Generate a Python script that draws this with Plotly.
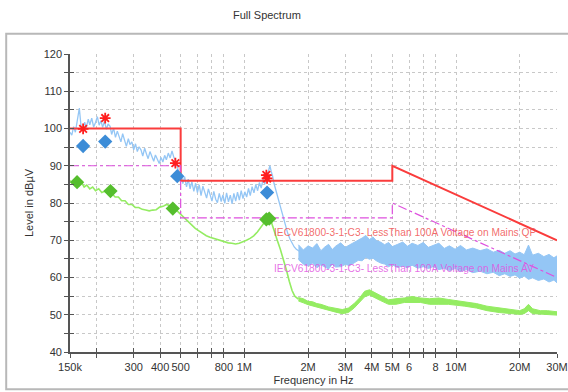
import plotly.graph_objects as go

# ---------------- data ----------------
# Peak-scan spectrum, low-frequency part (kHz, dBuV)
blue_lf_khz = [150, 153, 156, 159, 162, 166, 169, 172, 176, 179, 183, 186, 190, 194, 198, 202,
               206, 210, 214, 218, 223, 227, 232, 236, 241, 246, 251, 256, 261, 266, 272, 277,
               283, 288, 294, 300, 306, 312, 318, 325, 331, 338, 345, 351, 358, 366, 373, 380,
               388, 396, 404, 412, 420, 428, 437, 446, 455, 464, 473, 483, 492, 500, 505, 512,
               522, 533, 543, 554, 565, 577, 588, 600, 612, 624, 637, 650, 663, 676, 690, 703,
               717, 732, 746, 761, 777, 792, 808, 824, 841, 858, 875, 892, 910, 928, 947, 966,
               985, 1005, 1025, 1046, 1066, 1088, 1110, 1132, 1155, 1178, 1201, 1225, 1250, 1275,
               1300, 1320, 1340, 1360, 1380, 1400, 1425, 1450, 1480, 1510, 1540, 1570, 1600, 1640,
               1680, 1720, 1760, 1800, 1850]
blue_lf_db = [99, 98.2, 100.5, 99, 101.8, 105.5, 100.8, 99.6, 101.7, 100.2, 102.5, 101, 102.8, 100.4, 101.6, 103.2,
              100.9, 102.1, 100.3, 101.9, 99.8, 101.2, 100.6, 98.4, 100.1, 97.6, 99.3, 98.1, 96.4, 98.6, 96.9, 95.2,
              97.3, 95.7, 96.4, 94.3, 95.9, 93.8, 95.1, 94.2, 92.6, 94.7, 93.1, 91.9, 93.8, 92.4, 91.2, 92.9,
              91.5, 90.6, 92.2, 91, 92.8, 91.6, 93.4, 92.1, 94, 92.3, 91.4, 89.6, 88.2, 86.5, 87.8, 85.2,
              87.1, 84.3, 86.4, 83.8, 85.7, 83.1, 85.3, 82.8, 84.9, 82, 84.5, 82.6, 81.3, 83.8, 81.8, 80.5,
              83.1, 81, 80.1, 82.6, 80.4, 82.2, 79.9, 82.7, 80.3, 82.1, 79.8, 82.6, 80.5, 82.9, 80.8, 83.3,
              81.2, 83, 81.6, 83.9, 82, 84.4, 82.7, 85, 83.3, 85.5, 84, 86.4, 85.1, 87.5,
              88.6, 90, 88.4, 87.2, 85.3, 84, 82, 80.2, 78.3, 76.8, 75.1, 73.4, 72, 70.4,
              69.3, 68.2, 67.6, 67.2, 66.8]

# Peak-scan spectrum, high-frequency noise band (kHz, lower / upper edge, dBuV)
blue_hf_khz = [1800, 1900, 2000, 2100, 2200, 2300, 2400, 2500, 2600, 2700, 2850, 3000, 3150, 3300,
               3450, 3600, 3750, 3900, 4050, 4200, 4400, 4600, 4800, 5000, 5300, 5600, 5900, 6200,
               6600, 7000, 7400, 7800, 8300, 8800, 9300, 9900, 10500, 11200, 12000, 13000, 14000,
               15000, 16000, 17000, 18000, 19000, 20000, 21000, 22000, 23000, 24500, 26000, 27500,
               29000, 30000]
blue_hf_lo = [64.8, 63.6, 63.1, 63.9, 62.6, 63.4, 62.9, 62.3, 63.5, 62.8, 62.9, 63.5, 63.2, 63.9,
              64.6, 64.5, 65.4, 64.9, 65.2, 64.5, 63.9, 63.6, 62.9, 63.4, 62.7, 63.1, 62.6, 63.3,
              62.5, 62.9, 62.4, 62.9, 62.1, 62.5, 61.8, 62.4, 61.6, 62.1, 61.3, 61.7, 61,
              61.4, 60.5, 61, 60.3, 60.7, 59.8, 60.4, 59.5, 59.9, 59.2, 59.6, 58.8,
              59.3, 58.6]
blue_hf_hi = [68.8, 67.4, 68.5, 67.9, 69.1, 67.2, 68.2, 68.9, 67.5, 68.4, 69.3, 68.1, 68.8, 69.4,
              69.9, 70.6, 71.3, 70.2, 70.9, 69.9, 69.5, 68.8, 69.4, 68.3, 68.9, 69.5, 68.4, 69.2,
              68.6, 69.4, 68.1, 68.7, 69.2, 67.8, 68.5, 67.6, 68.6, 67.4, 67.9, 67.2, 67.7,
              66.8, 67.3, 66.5, 67.2, 66.3, 66.8, 66.1, 68.7, 66, 66.5, 65.6, 66.2,
              65.3, 65.8]

# Average spectrum, low-frequency part (kHz, dBuV)
green_lf_khz = [150, 155, 160, 165, 170, 175, 180, 186, 192, 198, 205, 212, 220, 228, 236, 245,
                254, 263, 273, 283, 294, 305, 317, 329, 342, 355, 369, 383, 398, 413, 429, 446,
                463, 481, 500, 520, 541, 563, 586, 610, 635, 661, 688, 716, 745, 775, 806, 839,
                873, 908, 945, 983, 1023, 1064, 1107, 1152, 1199, 1247, 1290, 1330, 1380, 1430,
                1480, 1530, 1580, 1630, 1680, 1730, 1800]
green_lf_db = [86, 85.3, 85.8, 84.8, 85.5, 84.3, 84.8, 83.8, 84.3, 83.3, 83.8, 82.8, 83.2, 82.3, 82.6, 81.6,
               81.6, 80.6, 80.6, 79.6, 79.6, 78.8, 78.8, 78.3, 78.1, 77.9, 78.1, 78.2, 78.9, 79.1, 79.6, 79.2,
               78.9, 77.9, 77, 76, 75, 74, 73.2, 72.5, 71.8, 71.2, 70.8, 70.5, 70, 69.8, 69.5, 69.3,
               69.2, 69, 69.2, 69.5, 70, 70.5, 71.2, 72.2, 73.5, 75, 76, 75.5, 73, 70,
               67.5, 65, 62, 59, 56.5, 55, 54.2]

# Average spectrum, high-frequency noise band (kHz, lower / upper edge, dBuV)
green_hf_khz = [1800, 1900, 2000, 2100, 2200, 2300, 2500, 2700, 2900, 3100, 3300, 3500, 3700, 3900,
                4100, 4400, 4800, 5200, 5700, 6200, 6800, 7500, 8300, 9200, 10000, 11000, 12500,
                14000, 16000, 18000, 20000, 21000, 22000, 23000, 25000, 27000, 30000]
green_hf_lo = [53.7, 53.2, 52.7, 52.4, 52, 51.7, 51.2, 50.7, 50.3, 50.6, 51.8, 53.3, 54.8, 55.3,
               54.8, 53.8, 52.8, 52.8, 53.3, 53.3, 53.3, 52.8, 52.8, 52.8, 52.6, 52.3, 51.8,
               51.1, 50.6, 50.3, 50.1, 50.3, 51.1, 50.3, 50.1, 50.1, 49.9]
green_hf_hi = [54.6, 54.3, 53.6, 53.5, 53, 52.8, 52.1, 51.8, 51.4, 51.8, 53, 54.5, 56.3, 56.7,
               56, 55, 54, 54.3, 54.5, 54.9, 54.5, 54.3, 54.5, 54.1, 53.8, 53.5, 53,
               52.3, 51.8, 51.5, 51.1, 51.6, 52.8, 51.6, 51.1, 51.1, 50.8]

# Limit lines (kHz, dBuV)
qp_limit_khz = [150, 500, 500, 5000, 5000, 30000]
qp_limit_db = [100, 100, 86, 86, 90, 70]
av_limit_khz = [150, 500, 500, 5000, 5000, 30000]
av_limit_db = [90, 90, 76, 76, 80, 60]

# Final measurement points
qp_star_khz = [173, 220, 472, 1270, 1280, 30000]
qp_star_db = [99.9, 102.8, 90.7, 87.5, 86.6, 60.5]
peak_diamond_khz = [173, 220, 482, 1280, 30000]
peak_diamond_db = [95.3, 96.5, 87.2, 82.8, 53.5]
avg_diamond_khz = [162, 233, 459, 1270, 1310, 30000]
avg_diamond_db = [85.6, 83.2, 78.5, 75.6, 75.8, 50.5]

# Axis ticks
x_tick_hz = [150e3, 200e3, 300e3, 400e3, 500e3, 600e3, 700e3, 800e3, 1e6, 2e6, 3e6, 4e6, 5e6,
             6e6, 7e6, 8e6, 10e6, 20e6, 30e6]
x_tick_text = ["150k", "", "300", "400", "500", "", "", "800", "1M", "2M", "3M", "4M", "5M",
               "6", "", "8", "10M", "20M", "30M"]
y_tick_vals = list(range(40, 121, 5))
y_tick_text = [str(v) if v % 10 == 0 else "" for v in y_tick_vals]

qp_label = "IECV61800-3-1-C3- LessThan 100A Voltage on Mains QP"
av_label = "IECV61800-3-1-C3- LessThan 100A Voltage on Mains AV"

# ---------------- styling ----------------
FONT = "Liberation Sans, Arial, sans-serif"
BLUE_TRACE = "rgb(148,198,245)"
GREEN_TRACE = "rgb(148,236,98)"
RED = "rgb(250,60,60)"
MAGENTA = "rgb(222,80,222)"
STAR_RED = "rgb(255,30,30)"


def hz(values_khz):
    return [v * 1e3 for v in values_khz]


fig = go.Figure()

# Peak spectrum
fig.add_trace(go.Scatter(
    x=hz(blue_hf_khz) + hz(blue_hf_khz)[::-1],
    y=blue_hf_hi + blue_hf_lo[::-1],
    mode="lines", fill="toself", fillcolor=BLUE_TRACE,
    line=dict(color=BLUE_TRACE, width=1), hoverinfo="skip"))
fig.add_trace(go.Scatter(x=hz(blue_lf_khz), y=blue_lf_db, mode="lines",
                         line=dict(color=BLUE_TRACE, width=1.3)))

# Average spectrum
fig.add_trace(go.Scatter(
    x=hz(green_hf_khz) + hz(green_hf_khz)[::-1],
    y=green_hf_hi + green_hf_lo[::-1],
    mode="lines", fill="toself", fillcolor=GREEN_TRACE,
    line=dict(color=GREEN_TRACE, width=1), hoverinfo="skip"))
fig.add_trace(go.Scatter(x=hz(green_lf_khz), y=green_lf_db, mode="lines",
                         line=dict(color=GREEN_TRACE, width=1.6)))

# Limits
fig.add_trace(go.Scatter(x=hz(qp_limit_khz), y=qp_limit_db, mode="lines",
                         line=dict(color=RED, width=2)))
fig.add_trace(go.Scatter(x=hz(av_limit_khz), y=av_limit_db, mode="lines",
                         line=dict(color=MAGENTA, width=1.2, dash="dashdot")))

# Measurement markers
fig.add_trace(go.Scatter(x=hz(avg_diamond_khz), y=avg_diamond_db, mode="markers", cliponaxis=False,
                         marker=dict(symbol="diamond", size=11, color="rgb(85,190,45)")))
fig.add_trace(go.Scatter(x=hz(peak_diamond_khz), y=peak_diamond_db, mode="markers", cliponaxis=False,
                         marker=dict(symbol="diamond", size=11, color="rgb(60,140,215)")))
fig.add_trace(go.Scatter(x=hz(qp_star_khz), y=qp_star_db, mode="markers", cliponaxis=False,
                         marker=dict(symbol="asterisk-open", size=9, color=STAR_RED,
                                     line=dict(color=STAR_RED, width=1.8))))

# Crossing-tick overlay axes (ticks inside; main axes carry the outside half)
fig.add_trace(go.Scatter(x=[], y=[], xaxis="x2", yaxis="y2"))

x_range = [5.17609, 7.47712]
y_range = [40, 120]
axis_font = dict(family=FONT, size=11, color="#333333")

fig.update_layout(
    width=568, height=392,
    margin=dict(l=70, r=11, t=54, b=40),
    paper_bgcolor="white", plot_bgcolor="white",
    showlegend=False,
    font=dict(family=FONT, size=11, color="#333333"),
    title=dict(text="Full Spectrum", x=0.47, xref="container", xanchor="center",
               y=0.962, yref="container", yanchor="middle",
               font=dict(family=FONT, size=11, color="#333333")),
    xaxis=dict(type="log", range=x_range, tickvals=x_tick_hz, ticktext=x_tick_text,
               ticks="outside", ticklen=4, tickwidth=1.3, tickcolor="#555555",
               showline=True, linecolor="#555555", linewidth=1.6,
               showgrid=True, gridcolor="#c8c8c8", griddash="dot", gridwidth=1,
               zeroline=False, tickfont=axis_font, automargin=False,
               title=dict(text="Frequency in Hz", font=axis_font, standoff=4)),
    yaxis=dict(range=y_range, tickvals=y_tick_vals, ticktext=y_tick_text,
               ticks="outside", ticklen=4, tickwidth=1.3, tickcolor="#555555",
               showline=True, linecolor="#555555", linewidth=1.6,
               showgrid=True, gridcolor="#c8c8c8", griddash="dot", gridwidth=1,
               zeroline=False, tickfont=axis_font, automargin=False,
               title=dict(text="Level in dBµV", font=axis_font, standoff=8)),
    xaxis2=dict(type="log", range=x_range, overlaying="x", anchor="y2", side="bottom",
                tickvals=x_tick_hz, ticks="inside", ticklen=4, tickwidth=1.3,
                tickcolor="#555555", showticklabels=False, showgrid=False,
                showline=False, zeroline=False),
    yaxis2=dict(range=y_range, overlaying="y", anchor="x2", side="left",
                tickvals=y_tick_vals, ticks="inside", ticklen=4, tickwidth=1.3,
                tickcolor="#555555", showticklabels=False, showgrid=False,
                showline=False, zeroline=False),
    shapes=[dict(type="rect", xref="paper", yref="paper",
                 x0=-0.131, x1=1.06, y0=-0.125, y1=1.068,
                 line=dict(color="#b8b8b8", width=2), fillcolor="rgba(0,0,0,0)", layer="below")],
    annotations=[
        dict(text=qp_label, xref="paper", yref="paper", x=0.415, y=0.400,
             xanchor="left", yanchor="middle", showarrow=False,
             font=dict(family=FONT, size=10.2, color="rgba(240,80,80,0.85)")),
        dict(text=av_label, xref="paper", yref="paper", x=0.415, y=0.279,
             xanchor="left", yanchor="middle", showarrow=False,
             font=dict(family=FONT, size=10.2, color="rgba(225,85,225,0.85)")),
    ],
)

fig.write_html("out.html")
